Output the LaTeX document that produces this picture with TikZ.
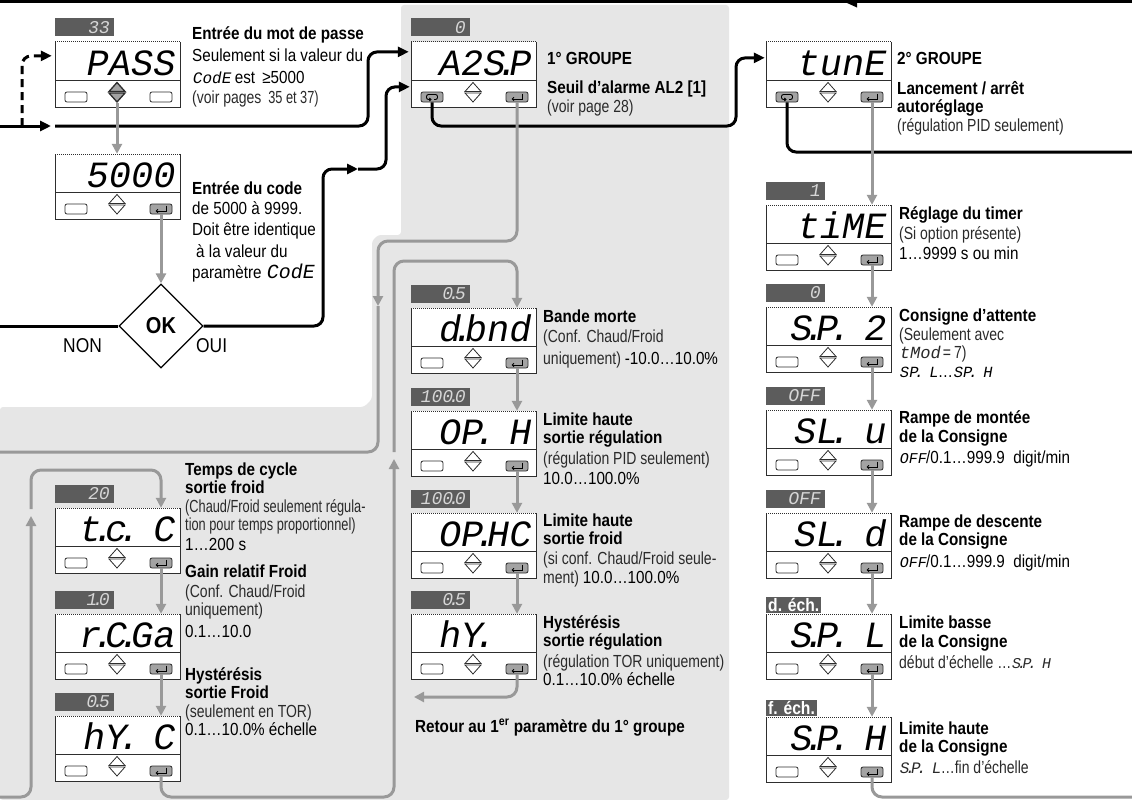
\documentclass[tikz,border=0pt]{standalone}
\usepackage{fontspec}
\setmainfont{Liberation Sans}[FakeStretch=0.87]
\newfontfamily\lightf{Liberation Sans}[FakeStretch=0.80]
\newfontfamily\lightn{Liberation Sans}[FakeStretch=0.73]
\newfontfamily\segf{Liberation Mono}[FakeSlant=0.18]
\usetikzlibrary{arrows.meta,shapes.geometric,decorations.markings}

\definecolor{bggray}{HTML}{E6E6E6}
\definecolor{lnk}{HTML}{999999}
\definecolor{lblgray}{HTML}{5C5C5C}
\definecolor{frm}{HTML}{2E2E2E}
\definecolor{btngray}{HTML}{A3A3A3}
\definecolor{lbltxt}{HTML}{D6D6D6}
\definecolor{ltxt}{HTML}{2A2A2A}

\newcommand\sd{\kern-0.25em.\kern-0.25em}
\newcommand\sbk{\phantom{0}}
\newcommand\fsz[1]{\fontsize{#1}{#1}\selectfont}

\tikzset{
  blk/.style={line width=3pt, draw=black},
  gry/.style={line width=3pt, draw=lnk},
  btip/.style={-{Triangle[length=11pt,width=10pt]}},
  gtip/.style={-{Triangle[length=10pt,width=10pt]}},
  dframe/.style={draw=frm, line width=1pt},
  dispbg/.style={rectangle, fill=white, minimum width=125pt, minimum height=65pt, inner sep=0pt},
  segbig/.style={anchor=base east, inner sep=0pt, font=\segf\fsz{37}},
  btnw/.style={rectangle, rounded corners=2pt, draw=frm, line width=0.8pt, fill=white, minimum width=22pt, minimum height=10pt, inner sep=0pt},
  btng/.style={btnw, fill=btngray},
  chev0/.style={draw=frm, line width=0.8pt, fill=white},
  chev1/.style={draw=frm, line width=1.3pt, fill=btngray},
  lblbox/.style={rectangle, fill=lblgray, text=lbltxt, minimum height=18pt, text width=49pt, inner xsep=5pt, inner ysep=0pt, align=right, font=\segf\fsz{18}},
  lblbold/.style={rectangle, fill=lblgray, text=white, minimum height=16pt, inner xsep=2pt, inner ysep=0pt, font=\bfseries\fsz{18}, anchor=south west},
  tx/.style={anchor=base west, inner sep=0pt, font=\fsz{17.5}},
  hd/.style={tx, font=\bfseries\fsz{17.5}},
  lt/.style={tx, font=\lightf\fsz{17.5}, text=ltxt},
  ln/.style={tx, font=\lightn\fsz{17.5}, text=ltxt},
}

% #1 id, #2 left x, #3 top y, #4 display text, #5 left button (1=loop), #6 right button (1=enter), #7 arrows highlighted
\newcommand\dispbox[7]{%
  \node[dispbg] (#1) at (#2+62.5,#3+32.5) {};
  \draw[dframe] (#2,#3) -- (#2,#3+65) -- (#2+125,#3+65) -- (#2+125,#3);
  \draw[dframe, densely dotted] (#2,#3) -- (#2+125,#3);
  \draw[dframe] (#2,#3+38) -- (#2+125,#3+38);
  \node[segbig] (#1-t) at (#2+119,#3+33) {#4};
  \ifnum#5=1\relax
    \node[btng] (#1-l) at (#2+21,#3+55) {};
    \draw[line width=0.9pt, rounded corners=2pt, -{Straight Barb[length=1.5pt,width=3pt]}] (#2+23,#3+57.5) -- (#2+26.5,#3+57.5) -- (#2+26.5,#3+52.5) -- (#2+15.5,#3+52.5) -- (#2+15.5,#3+57.5) -- (#2+20.5,#3+57.5);
  \else
    \node[btnw] (#1-l) at (#2+21,#3+55) {};
  \fi
  \ifnum#6=1\relax
    \node[btng] (#1-r) at (#2+106,#3+55) {};
    \draw[line width=0.9pt, -{Straight Barb[length=1.8pt,width=3.5pt]}] (#2+111.5,#3+51.5) -- (#2+111.5,#3+57) -- (#2+100.5,#3+57);
  \else
    \node[btnw] (#1-r) at (#2+106,#3+55) {};
  \fi
  \draw[chev#7] (#2+54,#3+49.5) -- (#2+62,#3+40.5) -- (#2+70,#3+49.5) -- cycle;
  \draw[chev#7] (#2+54,#3+51) -- (#2+70,#3+51) -- (#2+62,#3+60) -- cycle;
  \coordinate (#1-a) at (#2+62,#3+61);
}
% #1 name, #2 display left, #3 display top, #4 text
\newcommand\lblbx[4]{\node[lblbox] (#1) at (#2+29.5,#3-14.5) {#4};}

\begin{document}
\begin{tikzpicture}[x=1pt,y=-1pt]
\useasboundingbox (0,0) rectangle (1132,800);
\fill[white] (0,0) rectangle (1132,800);
\fill[bggray, rounded corners=3pt] (401,5) -- (729,5) -- (729,800) -- (0,800) -- (0,407) -- (364,407) -- (372,399) -- (372,241) -- (378,235) -- (401,235) -- cycle;

% ---------- displays ----------
\dispbox{pass}{55}{42}{PASS}{0}{0}{1}
\lblbx{l-pass}{55}{42}{33}
\dispbox{code}{55}{154}{5000}{0}{1}{0}
\dispbox{a2sp}{411}{42}{A2S\sd P}{1}{1}{0}
\lblbx{l-a2sp}{411}{42}{0}
\dispbox{tune}{766}{42}{tunE}{1}{1}{0}
\dispbox{time}{766}{205}{tiME}{0}{1}{0}
\lblbx{l-time}{766}{205}{1}
\dispbox{sp2}{766}{307}{S\sd P\sd\sbk 2}{0}{1}{0}
\lblbx{l-sp2}{766}{307}{0}
\dispbox{slu}{766}{410}{SL\sd\sbk u}{0}{1}{0}
\lblbx{l-slu}{766}{410}{OFF}
\dispbox{sld}{766}{513}{SL\sd\sbk d}{0}{1}{0}
\lblbx{l-sld}{766}{513}{OFF}
\dispbox{spl}{766}{614}{S\sd P\sd\sbk L}{0}{1}{0}
\node[lblbold] (l-spl) at (766,613) {d. éch.};
\dispbox{sph}{766}{717}{S\sd P\sd\sbk H}{0}{1}{0}
\node[lblbold] (l-sph) at (766,716) {f. éch.};
\dispbox{dbnd}{411}{308}{d\sd bnd}{0}{1}{0}
\lblbx{l-dbnd}{411}{308}{0\sd 5}
\dispbox{oph}{411}{411}{OP\sd\sbk H}{0}{1}{0}
\lblbx{l-oph}{411}{411}{100\sd 0}
\dispbox{ophc}{411}{513}{OP\sd HC}{0}{1}{0}
\lblbx{l-ophc}{411}{513}{100\sd 0}
\dispbox{hy}{411}{614}{hY\sd\sbk\sbk}{0}{1}{0}
\lblbx{l-hy}{411}{614}{0\sd 5}
\dispbox{tcc}{55}{508}{t\sd c\sd\sbk C}{0}{1}{0}
\lblbx{l-tcc}{55}{508}{20}
\dispbox{rcga}{55}{614}{r\sd C\sd Ga}{0}{1}{0}
\lblbx{l-rcga}{55}{614}{1\sd 0}
\dispbox{hyc}{55}{716}{hY\sd\sbk C}{0}{1}{0}
\lblbx{l-hyc}{55}{716}{0\sd 5}

% decision
\node[diamond, draw=black, line width=1.3pt, fill=white, minimum width=84pt, minimum height=84pt, inner sep=0pt, font=\bfseries\fsz{23}] (ok) at (161,326) {OK};
\node[tx, font=\fsz{20}] (non) at (63,352) {NON};
\node[tx, font=\fsz{20}] (oui) at (196,352) {OUI};

% ---------- black connectors ----------
\coordinate (topR) at (1132,1);
\coordinate (topL) at (0,1);
\draw[blk, line width=4pt, decoration={markings, mark=at position 0.256 with {\arrow{Triangle[length=15pt,width=12pt]}}}, postaction={decorate}] (topR) -- (topL);

\coordinate (inL) at (0,126);
\coordinate (dashB) at (22,126);
\coordinate (inTip) at (51,126);
\coordinate (mainS) at (55,126);
\draw[blk, btip] (inL) -- (inTip);
\draw[blk, dash pattern=on 8pt off 5pt, rounded corners=9pt, btip] (dashB) -- (22,56) -- ([xshift=-3pt,yshift=-14pt]pass.north west);
\draw[blk, rounded corners=9pt, btip] (mainS) -- (368,126) -- (368,52) -- ([xshift=-2pt,yshift=-10pt]a2sp.north west);

\coordinate (nonL) at (0,326);
\draw[blk] (ok.west) -- (nonL);
\coordinate (ouiM) at (358,169);
\draw[blk, rounded corners=9pt, btip] (ok.east) -- (323,326) -- (323,169) -- (ouiM);
\draw[blk, rounded corners=9pt, btip] (ouiM) -- (386,169) -- (386,87) -- ([xshift=-1pt,yshift=-45pt]a2sp.north west);

\draw[blk, rounded corners=9pt, btip] (a2sp-l.south) -- (a2sp-l.south |- 0,126) -- (736,126) -- (736,58) -- ([xshift=-1pt,yshift=-16pt]tune.north west);
\coordinate (tuneOut) at (1132,152);
\draw[blk, rounded corners=9pt] (tune-l.south) -- (tune-l.south |- 0,152) -- (tuneOut);

% ---------- gray connectors ----------
\draw[gry, gtip] (pass-a) -- (pass-a |- code.north);
\draw[gry, gtip] (code-r.south) -- (ok.north);

\coordinate (a2M) at (378,306);
\coordinate (a2out) at (0,452);
\draw[gry, rounded corners=10pt, gtip] (a2sp-r.south) -- (a2sp-r.south |- 0,241) -- (378,241) -- (a2M);
\draw[gry, rounded corners=10pt] (a2M) -- (378,452) -- (a2out);

\coordinate (lin) at (0,797);
\coordinate (lM1) at (31,516);
\coordinate (lM2) at (31,509);
\draw[gry, rounded corners=10pt, gtip] (lin) -- (31,797) -- (lM1);
\draw[gry, rounded corners=10pt, gtip] (lM2) -- (31,470) -- (tcc-r |- 0,470) -- (tcc-r |- tcc.north);
\draw[gry, gtip] (tcc-r.south) -- (tcc-r |- rcga.north);
\draw[gry, gtip] (rcga-r.south) -- (rcga-r |- hyc.north);

\coordinate (mM1) at (394,459);
\coordinate (mM2) at (394,452);
\draw[gry, rounded corners=10pt, gtip] (hyc-r.south) -- (hyc-r |- 0,797) -- (394,797) -- (mM1);
\draw[gry, rounded corners=10pt, gtip] (mM2) -- (394,261) -- (dbnd-r |- 0,261) -- (dbnd-r |- dbnd.north);
\draw[gry, gtip] (dbnd-r.south) -- (dbnd-r |- oph.north);
\draw[gry, gtip] (oph-r.south) -- (oph-r |- ophc.north);
\draw[gry, gtip] (ophc-r.south) -- (ophc-r |- hy.north);
\coordinate (ret) at (414,697);
\draw[gry, rounded corners=10pt, gtip] (hy-r.south) -- (hy-r |- 0,697) -- (ret);

\draw[gry, gtip] (tune-r.south) -- (tune-r |- time.north);
\draw[gry, gtip] (time-r.south) -- (time-r |- sp2.north);
\draw[gry, gtip] (sp2-r.south) -- (sp2-r |- slu.north);
\draw[gry, gtip] (slu-r.south) -- (slu-r |- sld.north);
\draw[gry, gtip] (sld-r.south) -- (sld-r |- spl.north);
\draw[gry, gtip] (spl-r.south) -- (spl-r |- sph.north);
\coordinate (rOut) at (1132,797);
\draw[gry, rounded corners=10pt] (sph-r.south) -- (sph-r |- 0,797) -- (rOut);

% ---------- texts ----------
\node[hd] (p1) at (192,40) {Entrée du mot de passe};
\node[tx] (p2) at (192,62) {Seulement si la valeur du};
\node[tx] (p3) at (192,83) {{\segf\fsz{16}CodE} est \,≥5000};
\node[lt] (p4) at (192,103) {(voir pages \,{\lightn 35 et 37)}};

\node[hd] (c1) at (192,194) {Entrée du code};
\node[tx] (c2) at (192,214) {de 5000 à 9999.};
\node[tx] (c3) at (192,235) {Doit être identique};
\node[tx] (c4) at (196,257) {à la valeur du};
\node[tx] (c5) at (192,278) {paramètre {\segf\fsz{20}CodE}};

\node[hd] (a1) at (547,64) {1° GROUPE};
\node[hd] (a2) at (547,93) {Seuil d’alarme AL2 [1]};
\node[lt] (a3) at (547,112) {(voir page 28)};

\node[hd] (u1) at (897,64) {2° GROUPE};
\node[hd] (u2) at (897,94) {Lancement / arrêt};
\node[hd] (u3) at (897,112) {autoréglage};
\node[lt] (u4) at (897,131) {(régulation PID seulement)};

\node[hd] (r1) at (899,219) {Réglage du timer};
\node[lt] (r2) at (899,239) {(Si option présente)};
\node[tx] (r3) at (899,259) {1…9999 s ou min};
\node[hd] (r4) at (899,321) {Consigne d’attente};
\node[lt] (r5) at (899,340) {(Seulement avec};
\node[lt] (r6) at (899,358) {{\segf\fsz{17}tMod}\,=\,7)};
\node[tx] (r7) at (899,377) {{\segf\fsz{15.5}SP\sd\sbk L}…{\segf\fsz{15.5}SP\sd\sbk H}};
\node[hd] (r8) at (899,423) {Rampe de montée};
\node[hd] (r9) at (899,442) {de la Consigne};
\node[tx] (r10) at (899,463) {{\segf\fsz{15}OFF}/0.1…999.9 \ digit/min};
\node[hd] (r11) at (899,527) {Rampe de descente};
\node[hd] (r12) at (899,545) {de la Consigne};
\node[tx] (r13) at (899,567) {{\segf\fsz{15}OFF}/0.1…999.9 \ digit/min};
\node[hd] (r14) at (899,628) {Limite basse};
\node[hd] (r15) at (899,647) {de la Consigne};
\node[lt] (r16) at (899,668) {début d’échelle …{\segf\fsz{15}S\sd P\sd\sbk H}};
\node[hd] (r17) at (899,734) {Limite haute};
\node[hd] (r18) at (899,752) {de la Consigne};
\node[lt] (r19) at (899,773) {{\segf\fsz{16}S\sd P\sd\sbk L}…fin d’échelle};

\node[hd] (m1) at (543,322) {Bande morte};
\node[lt] (m2) at (543,342) {(Conf. Chaud/Froid};
\node[lt] (m3) at (543,364) {uniquement) {\normalfont\color{black}-10.0…10.0\%}};
\node[hd] (m4) at (543,425) {Limite haute};
\node[hd] (m5) at (543,443) {sortie régulation};
\node[lt] (m6) at (543,464) {(régulation PID seulement)};
\node[tx] (m7) at (543,484) {10.0…100.0\%};
\node[hd] (m8) at (543,526) {Limite haute};
\node[hd] (m9) at (543,544) {sortie froid};
\node[lt] (m10) at (543,564) {(si conf. Chaud/Froid seule-};
\node[lt] (m11) at (543,583) {ment) {\normalfont\color{black}10.0…100.0\%}};
\node[hd] (m12) at (543,628) {Hystérésis};
\node[hd] (m13) at (543,646) {sortie régulation};
\node[lt] (m14) at (543,667) {(régulation TOR uniquement)};
\node[tx] (m15) at (543,685) {0.1…10.0\% échelle};
\node[hd] (m16) at (415,732) {Retour au 1\textsuperscript{er} paramètre du 1° groupe};

\node[hd] (k1) at (185,475) {Temps de cycle};
\node[hd] (k2) at (185,493) {sortie froid};
\node[ln] (k3) at (185,512) {(Chaud/Froid seulement régula-};
\node[ln] (k4) at (185,530) {tion pour temps proportionnel)};
\node[tx] (k5) at (185,550) {1…200 s};
\node[hd] (k6) at (185,577) {Gain relatif Froid};
\node[lt] (k7) at (185,597) {(Conf. Chaud/Froid};
\node[lt] (k8) at (185,615) {uniquement)};
\node[tx] (k9) at (185,637) {0.1…10.0};
\node[hd] (k10) at (185,680) {Hystérésis};
\node[hd] (k11) at (185,698) {sortie Froid};
\node[lt] (k12) at (185,717) {(seulement en TOR)};
\node[tx] (k13) at (185,735) {0.1…10.0\% échelle};
\end{tikzpicture}
\end{document}
